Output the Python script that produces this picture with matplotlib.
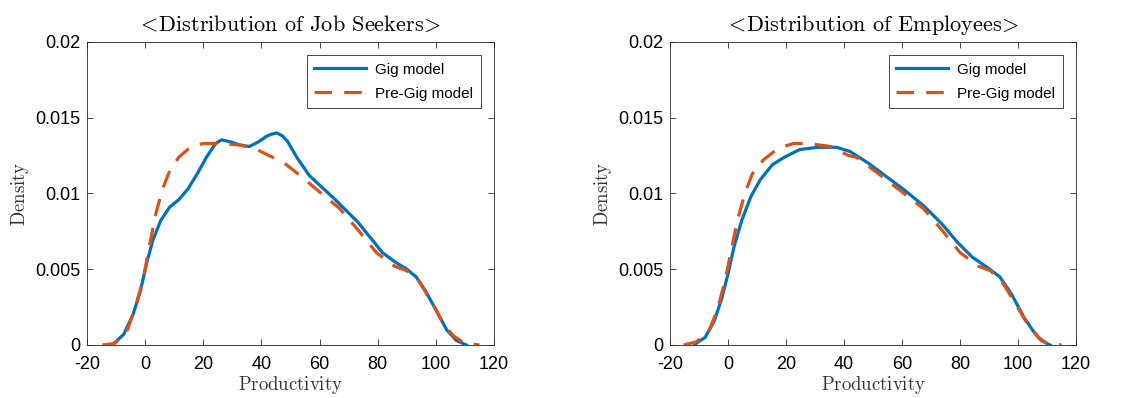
import matplotlib.pyplot as plt

plt.rcParams['mathtext.fontset'] = 'cm'
plt.rcParams['font.family'] = ['Liberation Sans', 'DejaVu Sans']
plt.rcParams['axes.unicode_minus'] = False

# Densidade de produtividade - job seekers (painel esquerdo)
seek_gig_x = [-11.5, -10.5, -7.4, -4.2, -1.6, 0.5, 2.6, 5.3, 8.4, 11.6, 14.7, 17.9, 21.1, 24.2,
              26.3, 29.5, 32.6, 35.8, 38.9, 41.6, 43.2, 45.3, 47.2, 49.0, 52.1, 56.4, 60.0,
              64.8, 69.0, 73.2, 77.4, 81.6, 85.8, 90.0, 93.2, 96.3, 99.5, 103.7, 107.0, 110.5]
seek_gig_y = [0.0, 0.00015, 0.0007, 0.0020, 0.0036, 0.0054, 0.0069, 0.0082, 0.0091, 0.0096,
              0.0103, 0.0113, 0.0124, 0.0133, 0.01354, 0.0134, 0.0132, 0.0131, 0.0134, 0.01376,
              0.0139, 0.0140, 0.0138, 0.01343, 0.0124, 0.0112, 0.01055, 0.0097, 0.0089, 0.0081,
              0.0071, 0.0061, 0.0055, 0.0050, 0.0045, 0.0036, 0.0025, 0.0010, 0.0003, 0.0]
seek_pre_x = [-14.7, -10.5, -6.3, -3.2, -0.5, 1.6, 3.7, 5.8, 8.4, 11.6, 15.8, 20.0, 26.3, 32.6,
              38.4, 43.7, 47.9, 53.2, 60.0, 66.9, 73.2, 79.5, 85.8, 90.0, 94.2, 98.4, 102.6,
              106.0, 110.0, 115.0]
seek_pre_y = [0.0, 0.0001, 0.0009, 0.0026, 0.0045, 0.0067, 0.0087, 0.0102, 0.0115, 0.0124, 0.0131,
              0.0133, 0.0133, 0.0132, 0.0129, 0.0124, 0.0120, 0.0112, 0.0101, 0.0090, 0.0076,
              0.0061, 0.0052, 0.0049, 0.0042, 0.0029, 0.0014, 0.0006, 0.0001, 0.0]

# Densidade de produtividade - employees (painel direito)
emp_gig_x = [-11.5, -11.0, -7.9, -4.7, -2.1, 0.0, 2.1, 4.7, 7.9, 11.1, 15.3, 19.5, 24.7, 31.1,
             37.4, 42.1, 48.4, 54.7, 61.0, 67.4, 73.7, 79.0, 84.2, 89.5, 93.7, 97.9, 102.1,
             105.3, 108.0, 111.0]
emp_gig_y = [0.0, 0.0001, 0.0005, 0.0016, 0.0031, 0.0047, 0.0065, 0.0082, 0.0098, 0.0109, 0.0119,
             0.0124, 0.0129, 0.01305, 0.01305, 0.01277, 0.0120, 0.0111, 0.0102, 0.0092, 0.0080,
             0.0068, 0.0058, 0.0051, 0.0045, 0.0033, 0.0018, 0.0009, 0.0003, 0.0]
emp_pre_x = [-15.3, -11.0, -6.8, -3.7, -1.1, 1.1, 3.2, 5.8, 8.4, 12.1, 17.4, 22.6, 27.9, 35.3,
             41.6, 44.2, 52.6, 60.0, 67.4, 73.7, 80.0, 86.3, 90.5, 94.7, 98.9, 103.2, 107.0,
             110.0, 115.0]
emp_pre_y = [0.0, 0.0002, 0.0008, 0.0023, 0.0042, 0.0062, 0.0082, 0.0100, 0.0113, 0.0122, 0.0130,
             0.0133, 0.0133, 0.0131, 0.0125, 0.0124, 0.0112, 0.0101, 0.0090, 0.0076, 0.0061,
             0.0052, 0.0049, 0.0041, 0.0028, 0.0014, 0.0005, 0.0001, 0.0]

titles = [r'$\!<\!$Distribution of Job Seekers$\!>\!$', r'$\!<\!$Distribution of Employees$\!>\!$']
xticks = [-20, 0, 20, 40, 60, 80, 100, 120]
yticks = [0, 0.005, 0.01, 0.015, 0.02]
yticklabels = ['0', '0.005', '0.01', '0.015', '0.02']

blue = '#0072BD'
orange = '#D95319'
frame = '#262626'

fig = plt.figure(figsize=(11.41, 3.98), dpi=100)
ax1 = fig.add_axes([0.0763, 0.1332, 0.3567, 0.7613])
ax2 = fig.add_axes([0.5872, 0.1332, 0.3559, 0.7613])

panels = [(ax1, seek_gig_x, seek_gig_y, seek_pre_x, seek_pre_y),
          (ax2, emp_gig_x, emp_gig_y, emp_pre_x, emp_pre_y)]

for k, (ax, gx, gy, px, py) in enumerate(panels):
    ax.plot(gx, gy, color=blue, lw=2.3, label='Gig model', solid_joinstyle='round')
    ax.plot(px, py, color=orange, lw=2.3, dashes=(5.5, 3.8), label='Pre-Gig model')
    ax.set_xlim(-20, 120)
    ax.set_ylim(0, 0.02)
    ax.set_xticks(xticks)
    ax.set_yticks(yticks)
    ax.set_yticklabels(yticklabels)
    ax.tick_params(direction='in', top=True, right=True, length=4, width=0.6,
                   colors=frame, labelsize=13, labelcolor='black')
    ax.tick_params(axis='x', pad=8)
    ax.tick_params(axis='y', pad=5)
    for s in ax.spines.values():
        s.set_color(frame)
        s.set_linewidth(0.6)
    ax.set_title(titles[k], fontsize=16, family='cmr10', pad=8)
    ax.set_xlabel(r'$\mathrm{Productivity}$', fontsize=13.5, color='#333333', labelpad=1)
    ax.set_ylabel(r'$\mathrm{Density}$', fontsize=13.5, color='#333333', labelpad=3)
    leg = ax.legend(loc='upper right', fontsize=11, fancybox=False, framealpha=1,
                    borderaxespad=0.85, handlelength=3.4, handletextpad=0.6,
                    borderpad=0.5, labelspacing=0.65)
    leg.get_frame().set_edgecolor(frame)
    leg.get_frame().set_linewidth(0.6)

fig.savefig('out.png', dpi=100)
